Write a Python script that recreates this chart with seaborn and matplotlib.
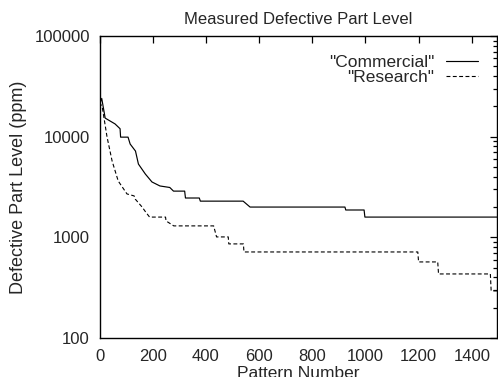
import matplotlib
matplotlib.use("Agg")
import matplotlib.pyplot as plt
import matplotlib.ticker as mticker
import seaborn as sns

# Commercial fault model (solid)
commercial_x = [0, 8, 21, 58, 77, 79, 107, 115, 135, 146, 172, 197, 227, 264, 278,
                320, 323, 375, 379, 540, 566, 923, 926, 995, 998, 1495]
commercial_y = [21000, 24000, 15300, 13400, 12000, 9900, 9900, 8450, 7200, 5350, 4260,
                3550, 3240, 3130, 2880, 2880, 2460, 2460, 2290, 2290, 2000, 2000,
                1870, 1870, 1590, 1590]

# Research fault model (dashed)
research_x = [0, 10, 28, 47, 70, 103, 130, 134, 160, 173, 188, 248, 250, 279, 429,
              440, 484, 486, 541, 543, 1197, 1200, 1272, 1275, 1470, 1473, 1495]
research_y = [22000, 19700, 9930, 5740, 3630, 2700, 2580, 2400, 2000, 1790, 1590,
              1590, 1456, 1300, 1300, 1010, 1010, 861, 861, 716, 716, 570, 570,
              433, 433, 294, 294]

y_ticks = [100, 1000, 10000, 100000]
x_ticks = [0, 200, 400, 600, 800, 1000, 1200, 1400]

sns.set_style("white")
plt.rcParams['font.family'] = ['Liberation Sans', 'DejaVu Sans']

fig = plt.figure(figsize=(4.98, 3.77), dpi=100)
ax = fig.add_axes([0.2, 0.1034, 0.798, 0.801])

sns.lineplot(x=commercial_x, y=commercial_y, estimator=None, sort=False,
             color='black', linewidth=0.85, label='"Commercial"', ax=ax)
sns.lineplot(x=research_x, y=research_y, estimator=None, sort=False,
             color='black', linewidth=0.8, linestyle=(0, (3.5, 2.2)),
             label='"Research"', ax=ax)

ax.set_yscale('log')
ax.set_ylim(100, 100000)
ax.set_xlim(0, 1495)
ax.set_yticks(y_ticks)
ax.set_yticklabels([str(v) for v in y_ticks])
ax.yaxis.set_minor_locator(mticker.LogLocator(base=10, subs=range(2, 10)))
ax.yaxis.set_minor_formatter(mticker.NullFormatter())
ax.set_xticks(x_ticks)

for s in ax.spines.values():
    s.set_color('black')
    s.set_linewidth(1.0)
ax.tick_params(which='both', direction='in', top=True, right=True, color='black',
               labelsize=12, width=0.9)
ax.tick_params(which='major', length=5)
ax.tick_params(axis='x', which='major', pad=8)
ax.tick_params(axis='y', which='major', pad=7)
ax.tick_params(which='minor', length=3)

ax.set_title('Measured Defective Part Level', fontsize=12, pad=9)
ax.set_xlabel('Pattern Number', fontsize=12.5, labelpad=1)
ax.set_ylabel('Defective Part Level (ppm)', fontsize=13, labelpad=5)

leg = ax.legend(loc='upper right', frameon=False, markerfirst=False, fontsize=12.5,
                handlelength=1.85, handletextpad=0.65, labelspacing=0.0,
                borderaxespad=0.7)

fig.savefig('out.png', dpi=100)
